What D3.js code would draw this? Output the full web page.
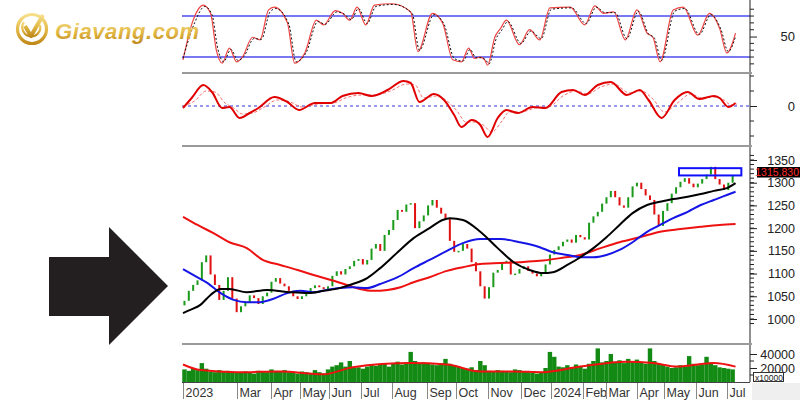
<!DOCTYPE html>
<html><head><meta charset="utf-8">
<script src="https://cdn.jsdelivr.net/npm/d3@7"></script>
<style>body{margin:0;background:#fff}svg{display:block;font-family:"Liberation Sans",Arial,sans-serif}</style>
</head><body><svg id="c" width="800" height="400"></svg>
<script>
// ---------- DATA ----------
const monthLabels = ["2023","Mar","Apr","May","Jun","Jul","Aug","Sep","Oct","Nov","Dec","2024","Feb","Mar","Apr","May","Jun","Jul"];
const monthDays   = [0,37,61,81,101,123,144,168,188,210,233,254,276,292,313,332,354,375];
const priceTicks = [1000,1050,1100,1150,1200,1250,1300,1350];
const lastPrice = 1315.83;
const firstOpen = 1030;
// closes sampled every 3 trading days
const closes = [1040,1062,1075,1085,1125,1140,1098,1075,1042,1062,1092,1045,1015,1028,1036,1052,1046,1033,1050,1058,
1082,1090,1078,1072,1062,1050,1044,1050,1055,1068,1074,1070,1066,1072,1095,1105,1098,1110,1116,1128,
1132,1120,1130,1155,1165,1150,1185,1196,1218,1240,1236,1252,1255,1200,1215,1228,1250,1262,1245,1232,
1220,1172,1148,1150,1165,1155,1125,1105,1072,1045,1070,1102,1108,1125,1128,1098,1100,1110,1116,1106,
1100,1094,1100,1120,1142,1152,1160,1170,1175,1168,1185,1180,1175,1212,1226,1236,1254,1268,1282,1268,
1250,1245,1268,1292,1300,1286,1272,1262,1230,1205,1238,1255,1276,1290,1302,1310,1298,1290,1298,1308,
1318,1335,1308,1296,1284,1300,1315.83];
const volumes = [18000,16000,20000,17000,27000,19000,
15000,14000,17000,15000,16000,14000,13000,
13000,15000,14000,12000,16000,15000,14000,18000,
16000,15000,17000,14000,13000,12000,15000,14000,13000,17000,
14000,12000,18000,22000,24000,28000,22000,30000,20000,21000,
19000,22000,24000,23000,25000,26000,22000,27000,29000,25000,28000,43000,
30000,27000,28000,26000,25000,24000,27000,33000,
26000,24000,22000,20000,19000,21000,17000,30000,24000,16000,15000,17000,
16000,15000,14000,18000,17000,15000,14000,13000,12000,14000,
20000,43000,36000,22000,21000,24000,20000,25000,22000,19000,
26000,30000,48000,28000,30000,40000,29000,31000,27000,33000,30000,32000,
28000,26000,48000,30000,26000,25000,22000,20000,21000,24000,22000,
37000,26000,24000,25000,36000,28000,24000,21000,20000,19000,18000];
const volMA = [[0,25000],[12,17000],[37,14000],[67,15000],[97,11000],[117,21000],[157,27000],[182,25000],[205,15000],[228,15000],[248,14000],[274,22000],[306,29000],[324,27000],[341,22000],[366,27000],[381,22000]];
const maBlack = [[0,1013],[5,1020],[12,1031],[19,1053],[26,1066],[32,1066],[44,1059],[58,1064],[74,1059],[86,1057],[97,1062],[108,1068],[117,1077],[127,1090],[136,1112],[148,1147],[159,1178],[170,1200],[179,1218],[184,1222],[193,1218],[205,1192],[217,1156],[228,1125],[239,1108],[248,1101],[255,1103],[265,1119],[274,1136],[283,1156],[292,1180],[301,1207],[310,1233],[320,1251],[329,1258],[338,1264],[348,1269],[357,1275],[366,1282],[375,1288],[381,1299]];
const maBlue = [[0,1110],[7,1097],[17,1079],[26,1057],[35,1042],[44,1037],[53,1037],[62,1044],[72,1057],[81,1062],[90,1059],[99,1064],[108,1068],[117,1070],[127,1068],[136,1077],[148,1092],[159,1112],[170,1130],[182,1150],[193,1167],[205,1176],[219,1176],[232,1169],[246,1158],[255,1147],[265,1141],[274,1136],[283,1136],[292,1141],[301,1152],[310,1169],[320,1192],[329,1207],[338,1222],[348,1236],[357,1251],[366,1262],[375,1273],[381,1280]];
const maRed = [[0,1225],[10,1207],[21,1189],[32,1169],[44,1156],[55,1130],[67,1119],[79,1108],[90,1097],[102,1086],[113,1075],[122,1066],[131,1062],[141,1064],[150,1070],[159,1081],[170,1092],[182,1106],[193,1114],[205,1121],[219,1123],[232,1125],[246,1128],[260,1134],[274,1141],[288,1156],[301,1169],[315,1180],[329,1192],[343,1198],[357,1203],[370,1207],[381,1209]];
const stochK = [[0,16],[7,74],[14,96],[19,84],[23,30],[27,11],[32,33],[37,13],[41,20],[48,49],[53,45],[59,89],[63,93],[72,70],[77,11],[84,26],[92,74],[97,67],[105,88],[110,84],[115,74],[120,93],[126,67],[132,96],[144,98],[157,86],[162,28],[172,84],[179,70],[186,16],[192,13],[197,33],[201,18],[205,20],[208,16],[210,8],[215,49],[219,62],[223,74],[232,38],[239,60],[246,45],[253,92],[267,93],[277,67],[284,95],[290,84],[297,86],[305,45],[313,89],[320,55],[324,49],[329,13],[338,89],[345,93],[355,52],[363,84],[370,62],[375,26],[381,55]];
const stochD = [[0,18],[8,70],[15,94],[20,82],[24,32],[28,13],[33,31],[38,15],[42,21],[49,47],[54,46],[60,86],[64,91],[73,68],[78,13],[85,27],[93,72],[98,68],[106,86],[111,83],[116,75],[121,91],[127,69],[133,94],[145,97],[158,84],[163,30],[173,82],[180,68],[187,18],[193,14],[198,31],[202,19],[206,19],[209,15],[211,10],[216,47],[220,60],[224,72],[233,40],[240,58],[247,47],[254,90],[268,92],[278,69],[285,93],[291,85],[298,85],[306,47],[314,87],[321,54],[325,48],[330,15],[339,87],[346,91],[356,53],[364,82],[371,60],[376,28],[381,50]];
const macd = [[0,-2],[6,8],[14,21],[20,14],[27,-2],[32,-1],[39,-12],[46,-7],[52,-2],[63,9],[72,4],[80,-4],[91,3],[102,3],[110,10],[121,13],[130,10],[141,16],[152,25],[157,23],[163,4],[173,12],[180,6],[187,-9],[192,-21],[199,-14],[205,-19],[210,-31],[217,-12],[223,-4],[231,-7],[241,-1],[250,-2],[261,14],[269,16],[277,11],[286,21],[295,24],[306,11],[315,16],[321,6],[330,-12],[339,6],[348,14],[356,7],[366,10],[370,8],[376,-1],[381,3]];
const macdSignal = [[0,0],[8,5],[16,15],[22,14],[29,3],[35,-2],[41,-8],[48,-7],[55,-2],[65,6],[74,4],[82,-1],[93,2],[104,3],[112,8],[123,11],[132,11],[143,15],[154,22],[160,21],[166,8],[175,10],[182,5],[189,-5],[195,-16],[202,-16],[207,-19],[213,-26],[220,-15],[225,-6],[233,-6],[243,-2],[252,-1],[263,11],[271,15],[279,12],[288,19],[297,22],[308,13],[316,15],[324,7],[332,-6],[341,3],[350,12],[358,8],[367,9],[373,6],[378,1],[382,2]];
const zone = {d0:342, d1:385, lo:1316, hi:1332};

// ---------- SCALES ----------
const svg = d3.select("#c");
const L = 182, R = 750;
const x = d3.scaleLinear().domain([0,382]).range([183,737]);
const yS = d3.scaleLinear().domain([0,100]).range([70.7,2.4]);
const yM = d3.scaleLinear().domain([-37,31]).range([143,75]);
const yP = d3.scaleLinear().domain([1000,1350]).range([319,160]);
const yV = d3.scaleLinear().domain([0,40000]).range([382,354]);
const candleDay = i => 1 + 3*i;

const defs = svg.append("defs");
const clips = [["cS",0,72],["cM",74,145],["cP",147,343],["cV",345,382]];
clips.forEach(([id,y0,y1])=>defs.append("clipPath").attr("id",id).append("rect").attr("x",L).attr("y",y0).attr("width",R-L).attr("height",y1-y0));
const g1 = defs.append("linearGradient").attr("id","gold").attr("x1",0).attr("y1",0).attr("x2",0).attr("y2",1);
g1.append("stop").attr("offset","0%").attr("stop-color","#f7e08a");
g1.append("stop").attr("offset","55%").attr("stop-color","#e2b845");
g1.append("stop").attr("offset","100%").attr("stop-color","#c08a1c");

// bottom-right gray strip
svg.append("rect").attr("x",752).attr("y",383).attr("width",48).attr("height",17).attr("fill","#efefef");

// ---------- STOCH PANEL ----------
const pS = svg.append("g").attr("clip-path","url(#cS)");
[80,20].forEach(v=>pS.append("line").attr("x1",L).attr("x2",R).attr("y1",yS(v)).attr("y2",yS(v)).attr("stroke","#4b4bf0").attr("stroke-width",1.6));
const lineS = d3.line().x(d=>x(d[0])).y(d=>yS(d[1])).curve(d3.curveMonotoneX);
pS.append("path").attr("d",lineS(stochK)).attr("fill","none").attr("stroke","#ee4444").attr("stroke-width",1.2);
pS.append("path").attr("d",lineS(stochD)).attr("fill","none").attr("stroke","#111").attr("stroke-width",1).attr("stroke-dasharray","2,2");

// ---------- MACD PANEL ----------
const pM = svg.append("g").attr("clip-path","url(#cM)");
pM.append("line").attr("x1",L).attr("x2",R).attr("y1",yM(0)).attr("y2",yM(0)).attr("stroke","#3434d8").attr("stroke-width",1.2).attr("stroke-dasharray","3,3");
const lineM = d3.line().x(d=>x(d[0])).y(d=>yM(d[1])).curve(d3.curveMonotoneX);
pM.append("path").attr("d",lineM(macdSignal)).attr("fill","none").attr("stroke","#f47070").attr("stroke-width",1).attr("stroke-dasharray","3,2");
pM.append("path").attr("d",lineM(macd)).attr("fill","none").attr("stroke","#e00000").attr("stroke-width",2);

// ---------- PRICE PANEL ----------
const pP = svg.append("g").attr("clip-path","url(#cP)");
const candles = closes.map((c,i)=>({d:candleDay(i), o: i===0?firstOpen:closes[i-1], c}));
pP.selectAll("rect.cd").data(candles).join("rect").attr("class","cd")
  .attr("x",d=>x(d.d)-1).attr("width",2)
  .attr("y",d=>yP(Math.max(d.o,d.c))).attr("height",d=>Math.max(1.5,Math.abs(yP(d.o)-yP(d.c))))
  .attr("fill",d=>d.c>=d.o?"#1a9a1a":"#e01010");
const lineP = d3.line().x(d=>x(d[0])).y(d=>yP(d[1])).curve(d3.curveMonotoneX);
pP.append("path").attr("d",lineP(maRed)).attr("fill","none").attr("stroke","#ee1111").attr("stroke-width",2);
pP.append("path").attr("d",lineP(maBlue)).attr("fill","none").attr("stroke","#1515e6").attr("stroke-width",2);
pP.append("path").attr("d",lineP(maBlack)).attr("fill","none").attr("stroke","#000").attr("stroke-width",2);
svg.append("rect").attr("x",x(zone.d0)).attr("y",yP(zone.hi)).attr("width",x(zone.d1)-x(zone.d0)).attr("height",yP(zone.lo)-yP(zone.hi))
  .attr("fill","none").attr("stroke","#1010ff").attr("stroke-width",2);

// ---------- VOLUME PANEL ----------
const pV = svg.append("g").attr("clip-path","url(#cV)");
pV.selectAll("rect.v").data(volumes).join("rect").attr("class","v")
  .attr("x",(d,i)=>x(candleDay(i))-2.2).attr("width",4.4)
  .attr("y",d=>yV(d)).attr("height",d=>yV(0)-yV(d)).attr("fill","#138a13");
const lineV = d3.line().x(d=>x(d[0])).y(d=>yV(d[1])).curve(d3.curveMonotoneX);
pV.append("path").attr("d",lineV(volMA)).attr("fill","none").attr("stroke","#ee1111").attr("stroke-width",2);

// ---------- FRAMES ----------
[[73,"#9a9a9a",2],[146,"#9a9a9a",2],[344,"#9a9a9a",2]].forEach(([y,c,w])=>svg.append("line").attr("x1",L).attr("x2",752).attr("y1",y).attr("y2",y).attr("stroke",c).attr("stroke-width",w));
svg.append("line").attr("x1",L).attr("x2",750).attr("y1",382.5).attr("y2",382.5).attr("stroke","#444").attr("stroke-width",1);

// ---------- RIGHT AXES ----------
function rightAxis(scale, ticks, minor, y0, y1, fmt, fs){
  const g = svg.append("g");
  g.append("line").attr("x1",R).attr("x2",R).attr("y1",y0).attr("y2",y1).attr("stroke","#222");
  minor.forEach(v=>g.append("line").attr("x1",R).attr("x2",R+4).attr("y1",scale(v)).attr("y2",scale(v)).attr("stroke","#222"));
  const ax = d3.axisRight(scale).tickValues(ticks).tickSize(7).tickPadding(0).tickFormat(fmt);
  const a = g.append("g").attr("transform",`translate(${R},0)`).call(ax);
  a.select(".domain").remove();
  a.selectAll("line").attr("stroke","#222");
  a.selectAll("text").attr("x",45).attr("text-anchor","end").attr("font-size",fs||13).attr("fill","#222").attr("font-family","Liberation Sans, Arial, sans-serif");
  return g;
}
rightAxis(yS,[50],[10,20,30,40,60,70,80,90],0,72,d=>d);
rightAxis(yM,[0],[-30,-15,15,30],74,145,d=>d);
rightAxis(yP,priceTicks,d3.range(990,1370,10),147,343,d=>d,12.5);
rightAxis(yV,[20000,40000],[10000,30000],345,382,d=>d,12.5);

// last price box
const lpY = yP(lastPrice)-3.5;
svg.append("rect").attr("x",757).attr("y",lpY-5).attr("width",43).attr("height",10.5).attr("fill","#000");
svg.append("text").attr("x",799).attr("y",lpY+3.8).attr("text-anchor","end").attr("font-size",10.5).attr("fill","#ff2a2a").text(lastPrice.toFixed(3));
// x10000 box
svg.append("rect").attr("x",753.5).attr("y",372.5).attr("width",30).attr("height",9).attr("fill","#fff").attr("stroke","#333");
svg.append("text").attr("x",755).attr("y",380.5).attr("font-size",8.5).attr("fill","#222").text("x10000");

// ---------- X AXIS (months) ----------
const gx = svg.append("g");
monthDays.forEach((d,i)=>{
  const px = Math.round(x(d))+0.5;
  gx.append("line").attr("x1",px).attr("x2",px).attr("y1",383).attr("y2",399).attr("stroke","#888");
  gx.append("text").attr("x",px+2).attr("y",397).attr("font-size",12.5).attr("fill","#333").text(monthLabels[i]);
});

// ---------- LOGO ----------
const logo = svg.append("g");
logo.append("circle").attr("cx",32).attr("cy",29).attr("r",14.5).attr("fill","none").attr("stroke","url(#gold)").attr("stroke-width",3.2);
logo.append("path").attr("d","M24,22 A9,9 0 1 0 40,25").attr("fill","none").attr("stroke","url(#gold)").attr("stroke-width",2.2);
logo.append("path").attr("d","M25,26 L31,36 L43,15").attr("fill","none").attr("stroke","url(#gold)").attr("stroke-width",4).attr("stroke-linejoin","round");
logo.append("text").attr("x",55).attr("y",38.5).attr("font-size",22).attr("font-weight","bold").attr("font-style","italic")
  .attr("fill","url(#gold)").attr("letter-spacing",0.6).text("Giavang.com");

// ---------- ARROW ----------
svg.append("polygon").attr("points","49,257 109,257 109,227 168,286 109,345 109,316 49,316").attr("fill","#231f20");
</script></body></html>
